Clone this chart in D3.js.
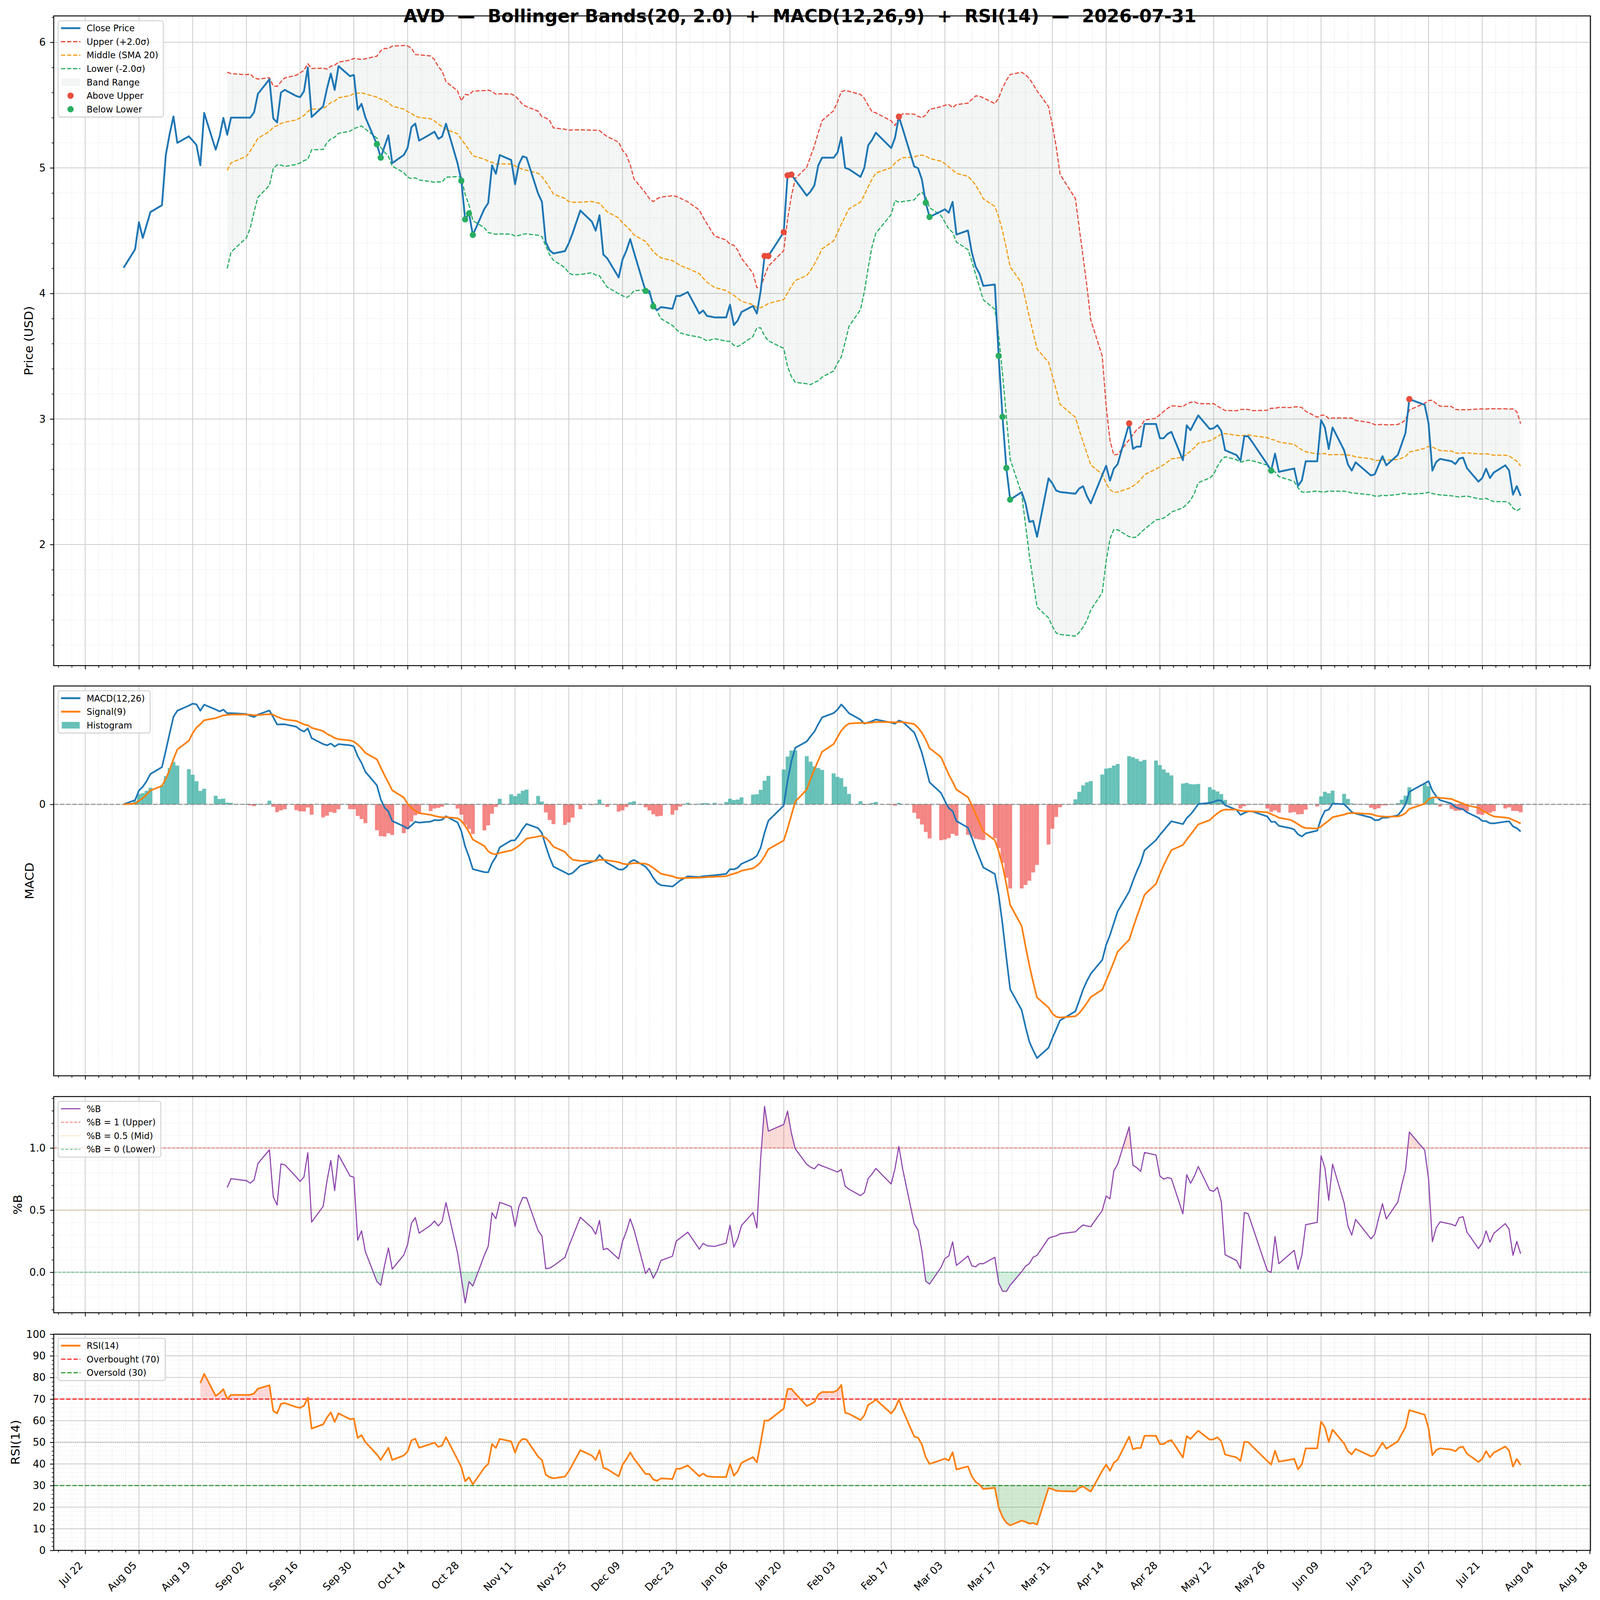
<!DOCTYPE html>
<html>
<head>
<meta charset="utf-8">
<script src="https://cdn.jsdelivr.net/npm/d3@7"></script>
<style>
  html, body { margin: 0; padding: 0; background: #fff; overflow: hidden; }
  #chart { display: block; width: 100vw; height: 100vh; }
  svg text { font-family: "DejaVu Sans", sans-serif; }
</style>
</head>
<body>
<svg id="chart" viewBox="0 0 4378 4322" preserveAspectRatio="none"></svg>
<script>
// closing prices, one value per trading day
const closeAug25 = [4.204, 4.351, 4.567, 4.442, 4.545, 4.648, 4.702, 5.102, 5.269, 5.409, 5.199, 5.251, 5.217, 5.182, 5.020, 5.437, 5.145, 5.247, 5.398, 5.264, 5.400];
const closeSep25 = [5.400, 5.400, 5.442, 5.589, 5.705, 5.394, 5.362, 5.600, 5.621, 5.572, 5.563, 5.610, 5.800, 5.405, 5.490, 5.632, 5.751, 5.621, 5.810, 5.730, 5.740];
const closeOct25 = [5.463, 5.510, 5.402, 5.188, 5.081, 5.171, 5.259, 5.038, 5.102, 5.159, 5.324, 5.352, 5.217, 5.269, 5.288, 5.231, 5.249, 5.352, 5.038, 4.898, 4.590, 4.637, 4.466];
const closeNov25 = [4.673, 4.720, 5.020, 4.952, 5.102, 5.062, 4.869, 5.030, 5.092, 5.081, 4.795, 4.730, 4.408, 4.344, 4.318, 4.337, 4.400, 4.480, 4.660];
const closeDec25 = [4.572, 4.500, 4.622, 4.309, 4.280, 4.127, 4.270, 4.340, 4.432, 4.325, 4.020, 4.019, 3.897, 3.866, 3.891, 3.878, 3.980, 3.980, 4.011, 3.840, 3.864, 3.821];
const closeJan26 = [3.809, 3.809, 3.910, 3.748, 3.784, 3.852, 3.900, 3.840, 4.020, 4.298, 4.298, 4.488, 4.940, 4.946, 4.904, 4.779, 4.812, 4.861, 5.020, 5.081];
const closeFeb26 = [5.081, 5.121, 5.244, 5.000, 4.989, 4.928, 5.000, 5.179, 5.222, 5.280, 5.158, 5.240, 5.408, 5.311, 5.011, 4.997, 4.907, 4.722, 4.609];
const closeMar26 = [4.654, 4.670, 4.643, 4.729, 4.469, 4.501, 4.327, 4.214, 4.157, 4.060, 4.071, 3.503, 3.017, 2.610, 2.358, 2.418, 2.328, 2.181, 2.188, 2.062, 2.527, 2.486];
const closeApr26 = [2.430, 2.418, 2.405, 2.446, 2.464, 2.385, 2.328, 2.554, 2.627, 2.509, 2.604, 2.640, 2.965, 2.762, 2.780, 2.780, 2.960, 2.960, 2.847, 2.847, 2.881];
const closeMay26 = [2.897, 2.672, 2.949, 2.911, 2.972, 3.028, 2.920, 2.926, 2.950, 2.906, 2.751, 2.712, 2.668, 2.862, 2.862, 2.819, 2.638, 2.589, 2.724, 2.579];
const closeJun26 = [2.599, 2.606, 2.467, 2.511, 2.663, 2.663, 2.991, 2.932, 2.761, 2.932, 2.751, 2.638, 2.589, 2.655, 2.550, 2.560, 2.633, 2.704, 2.631, 2.714, 2.800];
const closeJul26 = [2.890, 3.158, 3.112, 2.967, 2.589, 2.658, 2.682, 2.663, 2.641, 2.684, 2.692, 2.609, 2.501, 2.530, 2.604, 2.530, 2.573, 2.631, 2.589, 2.398, 2.465, 2.388];

// exchange closures inside the range (no bar on these days)
const marketHolidays = ["2025-09-01", "2025-11-27", "2025-12-25", "2026-01-01", "2026-01-19", "2026-02-16", "2026-04-03", "2026-05-25", "2026-06-19", "2026-07-03"];

// x axis tick dates and labels
const xTickDates = ["2025-07-22", "2025-08-05", "2025-08-19", "2025-09-02", "2025-09-16", "2025-09-30", "2025-10-14", "2025-10-28", "2025-11-11", "2025-11-25", "2025-12-09", "2025-12-23", "2026-01-06", "2026-01-20", "2026-02-03", "2026-02-17", "2026-03-03", "2026-03-17", "2026-03-31", "2026-04-14", "2026-04-28", "2026-05-12", "2026-05-26", "2026-06-09", "2026-06-23", "2026-07-07", "2026-07-21", "2026-08-04", "2026-08-18"];
const xTickLabels = ["Jul 22", "Aug 05", "Aug 19", "Sep 02", "Sep 16", "Sep 30", "Oct 14", "Oct 28", "Nov 11", "Nov 25", "Dec 09", "Dec 23", "Jan 06", "Jan 20", "Feb 03", "Feb 17", "Mar 03", "Mar 17", "Mar 31", "Apr 14", "Apr 28", "May 12", "May 26", "Jun 09", "Jun 23", "Jul 07", "Jul 21", "Aug 04", "Aug 18"];
const priceTicks = [2, 3, 4, 5, 6];
const macdTicks = [0];
const pctbTicks = [0, 0.5, 1];
const rsiTicks = [0, 10, 20, 30, 40, 50, 60, 70, 80, 90, 100];

const titleText = "AVD  \u2014  Bollinger Bands(20, 2.0)  +  MACD(12,26,9)  +  RSI(14)  \u2014  2026-07-31";

// ---- indicators ----
const closes = [].concat(closeAug25, closeSep25, closeOct25, closeNov25, closeDec25, closeJan26,
  closeFeb26, closeMar26, closeApr26, closeMay26, closeJun26, closeJul26);
const fmtDay = d3.utcFormat('%Y-%m-%d');
const dates = d3.utcDay.range(new Date(Date.UTC(2025, 7, 1)), new Date(Date.UTC(2026, 7, 1)))
  .filter(d => d.getUTCDay() % 6 !== 0 && marketHolidays.indexOf(fmtDay(d)) < 0);

const bbN = 20, bbK = 2;
const mid = closes.map((c, i) => i < bbN - 1 ? null : d3.mean(closes.slice(i - bbN + 1, i + 1)));
const sdev = closes.map((c, i) => i < bbN - 1 ? null : d3.deviation(closes.slice(i - bbN + 1, i + 1)));
const upper = mid.map((m, i) => m == null ? null : m + bbK * sdev[i]);
const lower = mid.map((m, i) => m == null ? null : m - bbK * sdev[i]);
const pctb = closes.map((c, i) => mid[i] == null ? null : (c - lower[i]) / (upper[i] - lower[i]));

function ema(arr, span) {
  const a = 2 / (span + 1);
  const out = [];
  arr.forEach((v, i) => out.push(i === 0 ? v : a * v + (1 - a) * out[i - 1]));
  return out;
}
const ema12 = ema(closes, 12), ema26 = ema(closes, 26);
const macd = closes.map((c, i) => ema12[i] - ema26[i]);
const signal = ema(macd, 9);
const hist = macd.map((m, i) => m - signal[i]);

// Wilder RSI
const rsi = closes.map(() => null);
let avgGain = null, avgLoss = null;
for (let i = 1; i < closes.length; i++) {
  const diff = closes[i] - closes[i - 1];
  const gn = Math.max(diff, 0), ls = Math.max(-diff, 0);
  if (i === 1) { avgGain = gn; avgLoss = ls; }
  else { avgGain = avgGain * 13 / 14 + gn / 14; avgLoss = avgLoss * 13 / 14 + ls / 14; }
  if (i >= 14) rsi[i] = 100 - 100 / (1 + avgGain / avgLoss);
}

const rows = dates.map((d, i) => ({
  date: d, close: closes[i], mid: mid[i], upper: upper[i], lower: lower[i],
  pctb: pctb[i], macd: macd[i], signal: signal[i], hist: hist[i], rsi: rsi[i]
}));

// ---- layout ----
const svg = d3.select('#chart');
const left = 147, right = 4352;
const panels = {
  price: { name: 'price', top: 43, bottom: 1798 },
  macd: { name: 'macd', top: 1853, bottom: 2906 },
  pctb: { name: 'pctb', top: 2962, bottom: 3546 },
  rsi: { name: 'rsi', top: 3604, bottom: 4188 }
};

const DAY = 86400000;
const t0 = +dates[0], t1 = +dates[dates.length - 1];
const xPad = 0.05 * (t1 - t0);
const x = d3.scaleUtc().domain([new Date(t0 - xPad), new Date(t1 + xPad)]).range([left, right]);

const xMajor = xTickDates.map(s => new Date(s + 'T00:00:00Z'));
const xMinor = [];
xMajor.forEach(t => { for (let k = -3; k <= 3; k++) if (k !== 0) xMinor.push(new Date(+t + k * 3.5 * DAY)); });
const xMinorIn = xMinor.filter(d => d >= x.domain()[0] && d <= x.domain()[1]);

function padded(lo, hi) {
  const r = hi - lo;
  return [lo - 0.05 * r, hi + 0.05 * r];
}

let clipCount = 0;
function clipRect(y0, y1) {
  const id = 'clip' + (clipCount++);
  svg.append('clipPath').attr('id', id)
    .append('rect').attr('x', left).attr('y', Math.min(y0, y1)).attr('width', right - left).attr('height', Math.abs(y1 - y0));
  return 'url(#' + id + ')';
}

function buildPanel(p, y, major, minor, fmt, tickLabels) {
  const g = svg.append('g');

  // grid
  g.append('g').selectAll('line').data(xMinorIn).join('line')
    .attr('x1', d => x(d)).attr('x2', d => x(d)).attr('y1', p.top).attr('y2', p.bottom)
    .attr('stroke', '#dcdcdc').attr('stroke-width', 1.6).attr('stroke-dasharray', '1.6,4');
  g.append('g').selectAll('line').data(minor).join('line')
    .attr('x1', left).attr('x2', right).attr('y1', d => y(d)).attr('y2', d => y(d))
    .attr('stroke', '#dcdcdc').attr('stroke-width', 1.6).attr('stroke-dasharray', '1.6,4');
  g.append('g').selectAll('line').data(xMajor.filter(d => x(d) >= left && x(d) <= right)).join('line')
    .attr('x1', d => x(d)).attr('x2', d => x(d)).attr('y1', p.top).attr('y2', p.bottom)
    .attr('stroke', '#cccccc').attr('stroke-width', 2.2);
  g.append('g').selectAll('line').data(major).join('line')
    .attr('x1', left).attr('x2', right).attr('y1', d => y(d)).attr('y2', d => y(d))
    .attr('stroke', '#cccccc').attr('stroke-width', 2.2);

  const plot = g.append('g').attr('clip-path', clipRect(p.top, p.bottom));

  // ticks, labels and frame go on top of the data
  function finish() {
    const ax = svg.append('g');
    const yAx = ax.append('g').attr('transform', 'translate(' + left + ',0)')
      .call(d3.axisLeft(y).tickValues(major).tickFormat(fmt).tickSize(10).tickPadding(12));
    yAx.select('.domain').remove();
    yAx.selectAll('line').attr('stroke-width', 2.2);
    yAx.selectAll('text').attr('font-size', 28).attr('fill', '#000');
    if (minor.length) {
      const yMin = ax.append('g').attr('transform', 'translate(' + left + ',0)')
        .call(d3.axisLeft(y).tickValues(minor).tickFormat('').tickSize(5.5));
      yMin.select('.domain').remove();
      yMin.selectAll('line').attr('stroke-width', 1.7);
    }
    const xAx = ax.append('g').attr('transform', 'translate(0,' + p.bottom + ')')
      .call(d3.axisBottom(x).tickValues(xMajor).tickFormat((d, i) => tickLabels ? xTickLabels[i] : '').tickSize(10));
    xAx.select('.domain').remove();
    xAx.selectAll('line').attr('stroke-width', 2.2);
    if (tickLabels) {
      xAx.selectAll('text').attr('font-size', 28).attr('fill', '#000')
        .attr('text-anchor', 'end').attr('x', 0).attr('y', 0).attr('dy', null)
        .attr('transform', 'translate(-5,42) rotate(-45)');
    }
    const xMin = ax.append('g').attr('transform', 'translate(0,' + p.bottom + ')')
      .call(d3.axisBottom(x).tickValues(xMinorIn).tickFormat('').tickSize(5.5));
    xMin.select('.domain').remove();
    xMin.selectAll('line').attr('stroke-width', 1.7);
    ax.append('rect').attr('x', left).attr('y', p.top).attr('width', right - left).attr('height', p.bottom - p.top)
      .attr('fill', 'none').attr('stroke', '#000').attr('stroke-width', 2.5);
  }
  return { plot, finish };
}

// shaded area between a series and a level, only on one side of the level
function levelFill(plot, data, key, y, level, side, color, opacity) {
  const p = side === 'above' ? clipRect(y.range()[1], y(level)) : clipRect(y(level), y.range()[0]);
  plot.append('g').attr('clip-path', p).append('path').datum(data)
    .attr('d', d3.area().x(d => x(d.date)).y0(y(level)).y1(d => y(d[key])))
    .attr('fill', color).attr('fill-opacity', opacity);
}

function legendBox(x0, y0, w, items) {
  const g = svg.append('g');
  const step = 36.5;
  const h = 20 + (items.length - 1) * step + 21;
  g.append('rect').attr('x', x0).attr('y', y0).attr('width', w).attr('height', h).attr('rx', 6)
    .attr('fill', '#fff').attr('fill-opacity', 0.8).attr('stroke', '#d0d0d0').attr('stroke-width', 2.5);
  items.forEach((it, i) => {
    const cy = y0 + 20 + i * step;
    if (it.type === 'line') {
      g.append('line').attr('x1', x0 + 8).attr('x2', x0 + 61).attr('y1', cy).attr('y2', cy)
        .attr('stroke', it.color).attr('stroke-width', it.width).attr('stroke-opacity', it.opacity || 1)
        .attr('stroke-dasharray', it.dash || null);
    } else if (it.type === 'rect') {
      g.append('rect').attr('x', x0 + 10).attr('y', cy - 9).attr('width', 49).attr('height', 18)
        .attr('fill', it.color).attr('fill-opacity', it.opacity)
        .attr('stroke', it.stroke || 'none').attr('stroke-opacity', 0.15).attr('stroke-width', 1);
    } else {
      g.append('circle').attr('cx', x0 + 34).attr('cy', cy).attr('r', 8.5).attr('fill', it.color);
    }
    g.append('text').attr('x', x0 + 78).attr('y', cy).attr('dy', '0.36em').attr('font-size', 24)
      .text(it.label);
  });
}

function yLabel(text, xb, p) {
  const cy = (p.top + p.bottom) / 2;
  svg.append('text').attr('transform', 'translate(' + xb + ',' + cy + ') rotate(-90)')
    .attr('text-anchor', 'middle').attr('font-size', 33).text(text);
}

// ---- price panel ----
const pLo = d3.min(rows, d => Math.min(d.close, d.lower == null ? Infinity : d.lower));
const pHi = d3.max(rows, d => Math.max(d.close, d.upper == null ? -Infinity : d.upper));
const yPrice = d3.scaleLinear().domain(padded(pLo, pHi)).range([panels.price.bottom, panels.price.top]);
const priceMinor = d3.range(1.2, 6.21, 0.2).map(v => +v.toFixed(1)).filter(v => priceTicks.indexOf(v) < 0 && v >= yPrice.domain()[0] && v <= yPrice.domain()[1]);
const P = buildPanel(panels.price, yPrice, priceTicks, priceMinor, d3.format('d'), false);

const bandRows = rows.filter(d => d.mid != null);
P.plot.append('path').datum(bandRows)
  .attr('d', d3.area().x(d => x(d.date)).y0(d => yPrice(d.lower)).y1(d => yPrice(d.upper)))
  .attr('fill', '#95a5a6').attr('fill-opacity', 0.1);
[['upper', '#e74c3c'], ['mid', '#f39c12'], ['lower', '#27ae60']].forEach(([k, c]) => {
  P.plot.append('path').datum(bandRows)
    .attr('d', d3.line().x(d => x(d.date)).y(d => yPrice(d[k])))
    .attr('fill', 'none').attr('stroke', c).attr('stroke-width', 3.2).attr('stroke-dasharray', '11.5,5');
});
P.plot.append('path').datum(rows)
  .attr('d', d3.line().x(d => x(d.date)).y(d => yPrice(d.close)))
  .attr('fill', 'none').attr('stroke', '#1f77b4').attr('stroke-width', 5).attr('stroke-linejoin', 'round');
P.plot.selectAll('.above').data(bandRows.filter(d => d.close > d.upper)).join('circle')
  .attr('cx', d => x(d.date)).attr('cy', d => yPrice(d.close)).attr('r', 8.5).attr('fill', '#e74c3c');
P.plot.selectAll('.below').data(bandRows.filter(d => d.close < d.lower)).join('circle')
  .attr('cx', d => x(d.date)).attr('cy', d => yPrice(d.close)).attr('r', 8.5).attr('fill', '#27ae60');
P.finish();
yLabel('Price (USD)', 90, panels.price);
legendBox(159, 56, 288, [
  { type: 'line', color: '#1f77b4', width: 5, label: 'Close Price' },
  { type: 'line', color: '#e74c3c', width: 3.2, dash: '11.5,5', label: 'Upper (+2.0\u03c3)' },
  { type: 'line', color: '#f39c12', width: 3.2, dash: '11.5,5', label: 'Middle (SMA 20)' },
  { type: 'line', color: '#27ae60', width: 3.2, dash: '11.5,5', label: 'Lower (-2.0\u03c3)' },
  { type: 'rect', color: '#95a5a6', opacity: 0.1, stroke: '#95a5a6', label: 'Band Range' },
  { type: 'dot', color: '#e74c3c', label: 'Above Upper' },
  { type: 'dot', color: '#27ae60', label: 'Below Lower' }
]);

// ---- MACD panel ----
const mLo = d3.min(rows, d => Math.min(d.macd, d.signal, d.hist, 0));
const mHi = d3.max(rows, d => Math.max(d.macd, d.signal, d.hist, 0));
const yMacd = d3.scaleLinear().domain(padded(mLo, mHi)).range([panels.macd.bottom, panels.macd.top]);
const M = buildPanel(panels.macd, yMacd, macdTicks, [], d3.format('d'), false);
const barW = x(new Date(t0 + DAY)) - x(new Date(t0));
M.plot.selectAll('.bar').data(rows).join('rect')
  .attr('x', d => x(d.date) - barW / 2).attr('width', barW)
  .attr('y', d => yMacd(Math.max(0, d.hist))).attr('height', d => Math.abs(yMacd(d.hist) - yMacd(0)))
  .attr('fill', d => d.hist >= 0 ? '#26a69a' : '#ef5350').attr('fill-opacity', 0.7);
M.plot.append('line').attr('x1', left).attr('x2', right).attr('y1', yMacd(0)).attr('y2', yMacd(0))
  .attr('stroke', '#808080').attr('stroke-opacity', 0.8).attr('stroke-width', 2.8).attr('stroke-dasharray', '12,5');
M.plot.append('path').datum(rows).attr('d', d3.line().x(d => x(d.date)).y(d => yMacd(d.macd)))
  .attr('fill', 'none').attr('stroke', '#1f77b4').attr('stroke-width', 4.5).attr('stroke-linejoin', 'round');
M.plot.append('path').datum(rows).attr('d', d3.line().x(d => x(d.date)).y(d => yMacd(d.signal)))
  .attr('fill', 'none').attr('stroke', '#ff7f0e').attr('stroke-width', 4.5).attr('stroke-linejoin', 'round');
M.finish();
yLabel('MACD', 92, panels.macd);
legendBox(159, 1866, 252, [
  { type: 'line', color: '#1f77b4', width: 5, label: 'MACD(12,26)' },
  { type: 'line', color: '#ff7f0e', width: 5, label: 'Signal(9)' },
  { type: 'rect', color: '#26a69a', opacity: 0.7, label: 'Histogram' }
]);

// ---- %B panel ----
const bRows = rows.filter(d => d.pctb != null);
const yPctb = d3.scaleLinear().domain(padded(d3.min(bRows, d => d.pctb), d3.max(bRows, d => d.pctb)))
  .range([panels.pctb.bottom, panels.pctb.top]);
const pctbMinor = d3.range(-0.3, 1.41, 0.1).map(v => +v.toFixed(1)).filter(v => pctbTicks.indexOf(v) < 0 && v >= yPctb.domain()[0] && v <= yPctb.domain()[1]);
const B = buildPanel(panels.pctb, yPctb, pctbTicks, pctbMinor, d3.format('.1f'), false);
levelFill(B.plot, bRows, 'pctb', yPctb, 1, 'above', '#e74c3c', 0.2);
levelFill(B.plot, bRows, 'pctb', yPctb, 0, 'below', '#27ae60', 0.2);
[[1, '#e74c3c', '8,4', 0.7], [0.5, '#f39c12', '2.2,3.6', 0.6], [0, '#27ae60', '8,4', 0.7]].forEach(([v, c, dash, op]) => {
  B.plot.append('line').attr('x1', left).attr('x2', right).attr('y1', yPctb(v)).attr('y2', yPctb(v))
    .attr('stroke', c).attr('stroke-opacity', op).attr('stroke-width', 2.4).attr('stroke-dasharray', dash);
});
B.plot.append('path').datum(bRows).attr('d', d3.line().x(d => x(d.date)).y(d => yPctb(d.pctb)))
  .attr('fill', 'none').attr('stroke', '#8e44ad').attr('stroke-width', 3).attr('stroke-linejoin', 'round');
B.finish();
yLabel('%B', 60, panels.pctb);
legendBox(159, 2975, 281, [
  { type: 'line', color: '#8e44ad', width: 3, label: '%B' },
  { type: 'line', color: '#e74c3c', width: 2.4, opacity: 0.7, dash: '8,4', label: '%B = 1 (Upper)' },
  { type: 'line', color: '#f39c12', width: 2.4, opacity: 0.6, dash: '2.2,3.6', label: '%B = 0.5 (Mid)' },
  { type: 'line', color: '#27ae60', width: 2.4, opacity: 0.7, dash: '8,4', label: '%B = 0 (Lower)' }
]);

// ---- RSI panel ----
const rRows = rows.filter(d => d.rsi != null);
const yRsi = d3.scaleLinear().domain([0, 100]).range([panels.rsi.bottom, panels.rsi.top]);
const rsiMinor = d3.range(2, 100, 2).filter(v => v % 10 !== 0);
const R = buildPanel(panels.rsi, yRsi, rsiTicks, rsiMinor, d3.format('d'), true);
levelFill(R.plot, rRows, 'rsi', yRsi, 70, 'above', '#ff0000', 0.15);
levelFill(R.plot, rRows, 'rsi', yRsi, 30, 'below', '#008000', 0.18);
R.plot.append('line').attr('x1', left).attr('x2', right).attr('y1', yRsi(50)).attr('y2', yRsi(50))
  .attr('stroke', '#808080').attr('stroke-opacity', 0.8).attr('stroke-width', 2.2).attr('stroke-dasharray', '2.2,3.6');
R.plot.append('line').attr('x1', left).attr('x2', right).attr('y1', yRsi(70)).attr('y2', yRsi(70))
  .attr('stroke', '#ff0000').attr('stroke-opacity', 0.8).attr('stroke-width', 3.3).attr('stroke-dasharray', '12,5');
R.plot.append('line').attr('x1', left).attr('x2', right).attr('y1', yRsi(30)).attr('y2', yRsi(30))
  .attr('stroke', '#008000').attr('stroke-opacity', 0.75).attr('stroke-width', 3.3).attr('stroke-dasharray', '12,5');
R.plot.append('path').datum(rRows).attr('d', d3.line().x(d => x(d.date)).y(d => yRsi(d.rsi)))
  .attr('fill', 'none').attr('stroke', '#ff7f0e').attr('stroke-width', 4.5).attr('stroke-linejoin', 'round');
R.finish();
yLabel('RSI(14)', 53, panels.rsi);
legendBox(159, 3615, 293, [
  { type: 'line', color: '#ff7f0e', width: 5, label: 'RSI(14)' },
  { type: 'line', color: '#ff0000', width: 3.3, opacity: 0.8, dash: '12,5', label: 'Overbought (70)' },
  { type: 'line', color: '#008000', width: 3.3, opacity: 0.75, dash: '12,5', label: 'Oversold (30)' }
]);

// ---- title ----
svg.append('text').attr('x', 4378 / 2).attr('y', 60).attr('text-anchor', 'middle')
  .attr('font-size', 49).attr('font-weight', 'bold').style('white-space', 'pre')
  .text(titleText);
</script>
</body>
</html>
